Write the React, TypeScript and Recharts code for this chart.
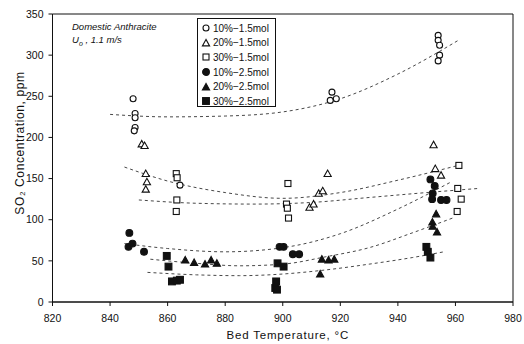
import React from "react";
import {
  ComposedChart,
  Line,
  ReferenceArea,
  Scatter,
  XAxis,
  YAxis,
} from "recharts";

// bed temperature (°C), SO2 (ppm)
const openCircle15 = [
  [848, 247], [848.7, 229], [848.7, 224], [848.7, 212], [848.4, 208], [864.3, 142],
  [917.1, 255], [916.5, 245], [918.6, 247],
  [954, 324], [954, 318], [954.5, 312], [954.5, 300], [954, 293],
];
const openTriangle15 = [
  [851, 192], [852, 190], [852.4, 156], [852.8, 146], [852.4, 137],
  [915.6, 156], [912.5, 132], [913.9, 135], [909.3, 115], [910.7, 119],
  [952.4, 191], [953, 162], [955, 154],
];
const openSquare15 = [
  [863, 156], [863.3, 151], [863.2, 124], [863, 110],
  [901.8, 144], [901.3, 119], [901.6, 114], [902, 102],
  [961.2, 166], [960.8, 138], [962, 125], [960.6, 110],
];
const filledCircle25 = [
  [846.7, 84], [846.4, 67], [847.8, 71], [851.8, 61],
  [898.9, 67], [900.3, 67], [903.5, 58], [905.7, 58],
  [951.3, 149], [952.8, 141], [952.1, 132], [951.9, 125], [955, 124], [956.9, 124],
];
const filledTriangle25 = [
  [866.1, 51], [869.2, 48], [873, 46], [875.1, 51], [877.1, 47],
  [913.6, 52], [915.9, 51], [917.9, 52], [913, 34],
  [953.3, 107], [952, 97], [952.1, 92], [953.6, 85],
];
const filledSquare25 = [
  [859.7, 56], [860.3, 43], [861.5, 25], [863.2, 26], [864.3, 27],
  [898.2, 47], [900.3, 43], [897.7, 25], [897.4, 17], [898, 15],
  [949.9, 67], [950.4, 61], [951.3, 54],
];

// dashed fit curves, sampled along the drawn lines
const fitA = [[840, 228], [860, 225], [880, 226], [900, 231], [920, 247], [940, 277], [961, 318]];
const fitB = [[845, 164], [860, 147], [880, 133], [900, 126], [920, 133], [940, 148], [961, 166]];
const fitC = [[850, 124], [870, 120], [890, 119], [910, 121], [930, 127], [950, 133], [968, 138]];
const fitD = [[845, 71], [860, 65], [880, 61], [900, 66], [920, 83], [940, 113], [958, 145]];
const fitE = [[854, 52], [870, 47], [885, 44], [900, 46], [915, 55], [930, 66], [945, 84], [959, 102]];
const fitF = [[853, 36], [870, 33], [885, 32], [900, 34], [915, 39], [930, 46], [945, 54], [956, 61]];

const xTicks = [820, 840, 860, 880, 900, 920, 940, 960, 980];
const yTicks = [0, 50, 100, 150, 200, 250, 300, 350];

const legendNames = [
  "10%\u22121.5mol",
  "20%\u22121.5mol",
  "30%\u22121.5mol",
  "10%\u22122.5mol",
  "20%\u22122.5mol",
  "30%\u22122.5mol",
];

const ink = "#111";
const font = "'Liberation Sans', Arial, sans-serif";

const toRows = (pts: number[][]) => pts.map(([t, v]) => ({ t, v }));

type Kind = "circle" | "triangle" | "square";

function Marker({ cx, cy, kind, filled }: { cx: number; cy: number; kind: Kind; filled: boolean }) {
  const fill = filled ? ink : "#fff";
  const sw = 1.1;
  if (kind === "circle") {
    return <circle cx={cx} cy={cy} r={filled ? 3.4 : 3} fill={fill} stroke={ink} strokeWidth={sw} />;
  }
  if (kind === "triangle") {
    const s = 3.6;
    return (
      <polygon
        points={`${cx},${cy - s} ${cx - s},${cy + s * 0.8} ${cx + s},${cy + s * 0.8}`}
        fill={fill}
        stroke={ink}
        strokeWidth={sw}
      />
    );
  }
  const s = filled ? 3.4 : 3;
  return <rect x={cx - s} y={cy - s} width={s * 2} height={s * 2} fill={fill} stroke={ink} strokeWidth={sw} />;
}

const series: { name: string; pts: number[][]; kind: Kind; filled: boolean }[] = [
  { name: legendNames[0], pts: openCircle15, kind: "circle", filled: false },
  { name: legendNames[1], pts: openTriangle15, kind: "triangle", filled: false },
  { name: legendNames[2], pts: openSquare15, kind: "square", filled: false },
  { name: legendNames[3], pts: filledCircle25, kind: "circle", filled: true },
  { name: legendNames[4], pts: filledTriangle25, kind: "triangle", filled: true },
  { name: legendNames[5], pts: filledSquare25, kind: "square", filled: true },
];

const fits = [fitA, fitB, fitC, fitD, fitE, fitF];

function YLabel({ viewBox }: any) {
  const x = viewBox.x + 7;
  const y = viewBox.y + viewBox.height / 2 - 15;
  return (
    <text
      x={x}
      y={y}
      transform={`rotate(-90, ${x}, ${y})`}
      textAnchor="middle"
      dominantBaseline="central"
      fontSize={12}
      letterSpacing={0.6}
      fontFamily={font}
      fill={ink}
    >
      SO₂ Concentration,  ppm
    </text>
  );
}

function XLabel({ viewBox }: any) {
  const x = viewBox.x + viewBox.width / 2 + 5;
  return (
    <text
      x={x}
      y={339}
      textAnchor="middle"
      fontSize={11.5}
      letterSpacing={0.8}
      fontFamily={font}
      fill={ink}
    >
      Bed  Temperature,  °C
    </text>
  );
}

export default function App() {
  return (
    <div style={{ position: "absolute", left: 0, top: 0, width: 524, height: 344, background: "#fff" }}>
      <ComposedChart width={524} height={344} margin={{ top: 14, right: 11, left: 12.5, bottom: 0 }}>
        <XAxis
          type="number"
          dataKey="t"
          domain={[820, 980]}
          ticks={xTicks}
          allowDataOverflow
          height={42}
          tickSize={4}
          tickMargin={9}
          stroke={ink}
          tick={{ fontSize: 10.5, fill: ink, fontFamily: font }}
          label={{ content: XLabel }}
        />
        <YAxis
          type="number"
          dataKey="v"
          domain={[0, 350]}
          ticks={yTicks}
          allowDataOverflow
          width={40}
          tickSize={4}
          tickMargin={5}
          stroke={ink}
          tick={{ fontSize: 10.5, fill: ink, fontFamily: font }}
          label={{ content: YLabel }}
        />
        <ReferenceArea x1={820} x2={980} y1={0} y2={350} fill="none" stroke={ink} strokeWidth={1} ifOverflow="visible" />
        {fits.map((f, i) => (
          <Line
            key={`fit${i}`}
            data={toRows(f)}
            dataKey="v"
            type="monotone"
            dot={false}
            activeDot={false}
            stroke="#333"
            strokeWidth={0.9}
            strokeDasharray="3 3"
            isAnimationActive={false}
            legendType="none"
          />
        ))}
        {series.map((s) => (
          <Scatter
            key={s.name}
            name={s.name}
            data={toRows(s.pts)}
            dataKey="v"
            isAnimationActive={false}
            shape={(p: any) => <Marker cx={p.cx} cy={p.cy} kind={s.kind} filled={s.filled} />}
          />
        ))}
      </ComposedChart>

      <div
        style={{
          position: "absolute",
          left: 72,
          top: 20,
          fontFamily: font,
          fontStyle: "italic",
          fontSize: 9.5,
          color: ink,
          lineHeight: "13px",
        }}
      >
        <div>Domestic Anthracite</div>
        <div>
          U<sub style={{ fontSize: 7 }}>o</sub> , 1.1 m/s
        </div>
      </div>

      <div
        style={{
          position: "absolute",
          left: 197,
          top: 18,
          width: 79,
          height: 89,
          border: `1px solid ${ink}`,
          boxSizing: "border-box",
          padding: "2px 0 0 3px",
          fontFamily: font,
          fontSize: 10,
          color: ink,
          background: "#fff",
        }}
      >
        {series.map((s) => (
          <div key={s.name} style={{ display: "flex", alignItems: "center", height: 14.6 }}>
            <svg width={10} height={10} style={{ marginRight: 2 }}>
              <Marker cx={5} cy={5} kind={s.kind} filled={s.filled} />
            </svg>
            <span>{s.name}</span>
          </div>
        ))}
      </div>
    </div>
  );
}
